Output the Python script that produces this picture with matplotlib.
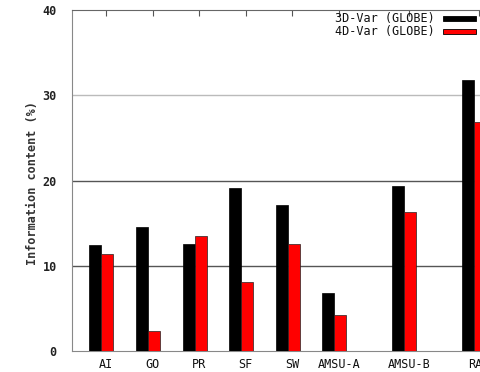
import matplotlib
matplotlib.use("Agg")
import matplotlib.pyplot as plt
from matplotlib.patches import Rectangle

# data
categories = ["AI", "GO", "PR", "SF", "SW", "AMSU-A", "AMSU-B", "RAO"]
positions = [1, 2, 3, 4, 5, 6, 7.5, 9]
var3d = [12.4, 14.5, 12.5, 19.1, 17.1, 6.8, 19.4, 31.8]
var4d = [11.4, 2.4, 13.5, 8.1, 12.5, 4.2, 16.3, 26.9]
series_names = ["3D-Var (GLOBE)", "4D-Var (GLOBE)"]

W, H = 481, 372
FONT = "DejaVu Sans Mono"
fig = plt.figure(figsize=(W / 100, H / 100), dpi=100)

# axes in pixels: left 72, top 10, bottom 351; 46.6 px per category unit
x0, x1 = 0.27, 9.6
ppu = 46.6
ax = fig.add_axes([72 / W, (H - 351) / H, (x1 - x0) * ppu / W, 341 / H])
ax.set_xlim(x0, x1)
ax.set_ylim(0, 40)

bw = 0.257
off = -0.1
ax.bar([p + off - bw / 2 for p in positions], var3d, width=bw, color="black",
       edgecolor="black", linewidth=0.5, zorder=3)
ax.bar([p + off + bw / 2 for p in positions], var4d, width=bw, color="#ff0000",
       edgecolor="#222222", linewidth=0.5, zorder=3)

for lvl, col in [(10, "#555555"), (20, "#555555"), (30, "#bbbbbb")]:
    ax.axhline(lvl, color=col, lw=1.0, zorder=1)

for s in ["left", "bottom"]:
    ax.spines[s].set_color("#888888")
ax.spines["top"].set_color("#666666")
ax.spines["right"].set_visible(False)

ax.set_yticks([0, 10, 20, 30, 40])
ax.set_yticklabels(["0", "10", "20", "30", "40"], fontfamily=FONT,
                   fontsize=8.5, fontweight="bold", color="#222222")
ax.tick_params(axis="y", length=0, pad=11)

ax.set_xticks(positions)
ax.set_xticklabels(categories, fontfamily=FONT, fontsize=8.5, color="#111111")
ax.tick_params(axis="x", which="both", bottom=False, top=True, direction="in",
               length=4, width=0.8, color="#555555", pad=5)

fig.text(33 / W, 1 - 183 / H, "Information content (%)", rotation=90,
         ha="center", va="center", fontfamily=FONT, fontsize=8.5,
         fontweight="bold", color="#333333")

# legend, top right
for i, (name, col) in enumerate(zip(series_names, ["black", "#ff0000"])):
    yc = 18.5 + 13 * i
    fig.text(435 / W, 1 - yc / H, name, ha="right", va="center",
             fontfamily=FONT, fontsize=8.5, color="#111111")
    fig.patches.append(Rectangle((443 / W, 1 - (yc + 2.5) / H), 33 / W, 5 / H,
                                 transform=fig.transFigure, facecolor=col,
                                 edgecolor="black", linewidth=0.6))

fig.savefig("out.png", dpi=100)
